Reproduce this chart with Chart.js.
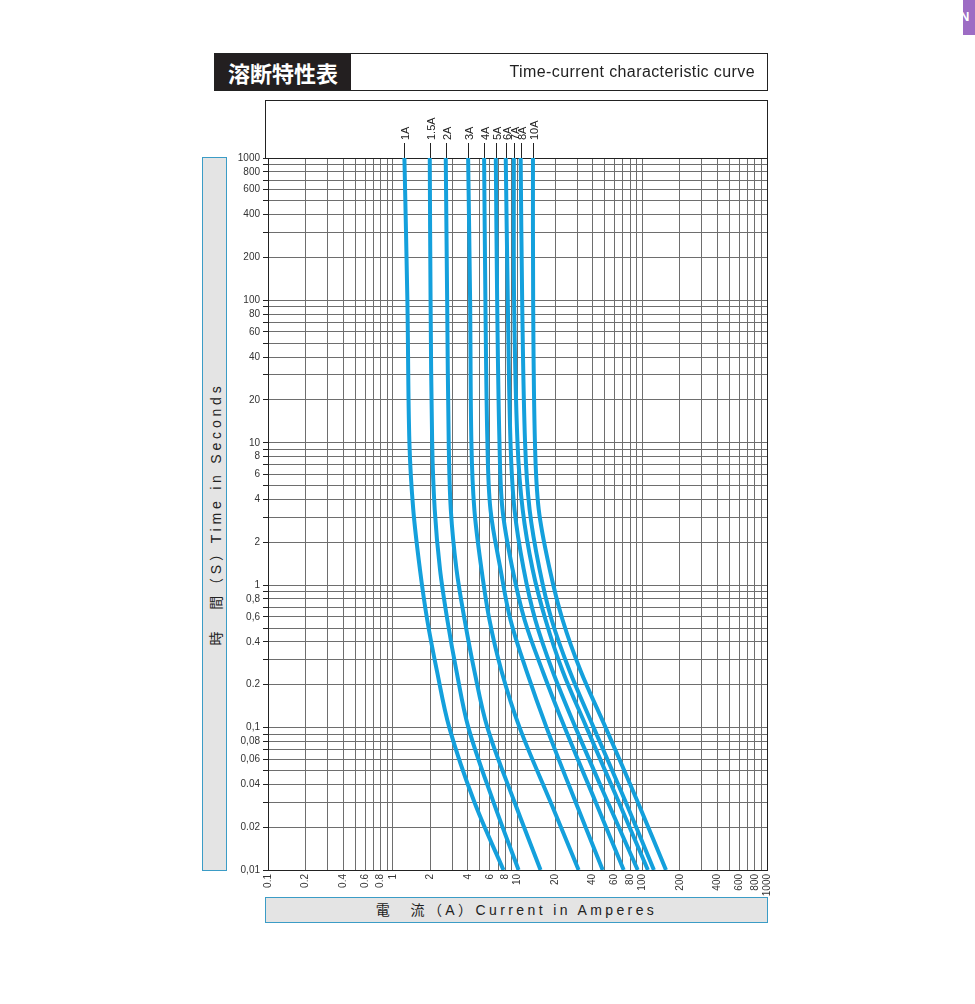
<!DOCTYPE html>
<html lang="ja">
<head>
  <meta charset="UTF-8" />
  <title>溶断特性表 | Time-current characteristic curve</title>
  <script src="https://cdn.jsdelivr.net/npm/chart.js"></script>
  <style>
    body {
      margin: 0;
      background: #fff;
      font-family: "Liberation Sans", "Noto Sans CJK JP", sans-serif;
      color: #222;
    }
    #page {
      position: relative;
      width: 975px;
      height: 1004px;
      overflow: hidden;
    }
    #chart {
      position: absolute;
      left: 0;
      top: 0;
    }
    .title-frame {
      position: absolute;
      left: 214px;
      top: 53px;
      width: 552px;
      height: 36px;
      border: 1px solid #222;
    }
    .title-jp {
      position: absolute;
      left: 0;
      top: 0;
      width: 136px;
      height: 36px;
      background: #231f20;
      color: #fff;
      font: bold 22px "Noto Sans CJK JP", sans-serif;
      line-height: 36px;
      text-align: center;
    }
    .title-en {
      position: absolute;
      right: 12px;
      top: 9px;
      font-size: 16px;
      letter-spacing: 0.4px;
      color: #222;
    }
    .top-box {
      position: absolute;
      left: 265px;
      top: 100px;
      width: 501px;
      height: 58px;
      border: 1px solid #222;
      border-bottom: none;
    }
    .y-title {
      position: absolute;
      left: 202px;
      top: 157px;
      width: 23px;
      height: 712px;
      background: #e4e4e4;
      border: 1px solid #3b9cc6;
    }
    .y-title span, .x-title span {
      font-size: 14px;
      white-space: nowrap;
      color: #222;
    }
    .y-title span {
      position: absolute;
      left: 50%;
      top: 50%;
      letter-spacing: 3.8px;
      transform: translate(-50%, -50%) rotate(-90deg);
    }
    .x-title {
      position: absolute;
      left: 265px;
      top: 897px;
      width: 501px;
      height: 24px;
      background: #e4e4e4;
      border: 1px solid #3b9cc6;
      text-align: center;
      line-height: 24px;
    }
    .x-title span {
      letter-spacing: 3.4px;
    }
    .corner {
      position: absolute;
      left: 963px;
      top: 0;
      width: 12px;
      height: 35px;
      background: #9d6cc4;
      overflow: hidden;
    }
    .corner b {
      position: absolute;
      left: -3px;
      top: 9px;
      color: #fff;
      font-size: 13px;
    }
  </style>
</head>
<body>
<div id="page">
  <canvas id="chart" width="975" height="1004"></canvas>

  <div class="title-frame">
    <div class="title-jp">溶断特性表</div>
    <div class="title-en">Time-current characteristic curve</div>
  </div>
  <div class="top-box"></div>
  <div class="y-title"><span>時　間（S）Time in Seconds</span></div>
  <div class="x-title"><span>電　流（A）Current in Amperes</span></div>
  <div class="corner"><b>N</b></div>
</div>

<script>
  // 定格ごとの溶断曲線（時間[s] に対する電流[A]、図から読み取り）
  const ratings = ['1A', '1.5A', '2A', '3A', '4A', '5A', '6A', '7A', '8A', '10A'];
  const timesSec = [1000, 100, 10, 3.4, 1.3, 0.57, 0.25, 0.1, 0.03, 0.01];

  const amps1A   = [1.24, 1.31, 1.36, 1.46, 1.65, 1.89, 2.26, 2.84, 4.51, 7.72];
  const amps1_5A = [1.98, 2.01, 2.07, 2.17, 2.39, 2.74, 3.24, 4.04, 6.42, 10.2];
  const amps2A   = [2.66, 2.73, 2.81, 2.92, 3.24, 3.77, 4.51, 5.74, 9.46, 15.3];
  const amps3A   = [4.02, 4.17, 4.27, 4.51, 5.14, 5.96, 7.44, 10.4, 18.4, 30.9];
  const amps4A   = [5.40, 5.53, 5.74, 6.07, 7.30, 8.79, 11.8, 17.1, 29.2, 48.2];
  const amps5A   = [6.70, 6.87, 7.17, 7.58, 9.12, 11.4, 15.9, 23.9, 42.3, 71.0];
  const amps6A   = [8.05, 8.36, 8.79, 9.46, 11.2, 13.9, 19.1, 29.2, 52.9, 92.0];
  const amps7A   = [9.34, 9.39, 10.0, 11.0, 13.2, 16.8, 23.0, 35.8, 64.8, 111];
  const amps8A   = [10.6, 10.9, 11.5, 12.5, 15.0, 18.8, 26.2, 40.8, 73.7, 124];
  const amps10A  = [13.3, 13.35, 13.8, 14.8, 18.1, 23.0, 32.1, 50.9, 92.0, 155];

  const ampSeries = [amps1A, amps1_5A, amps2A, amps3A, amps4A, amps5A, amps6A, amps7A, amps8A, amps10A];

  // 目盛ラベル
  const xTickValues = [0.1, 0.2, 0.4, 0.6, 0.8, 1, 2, 4, 6, 8, 10, 20, 40, 60, 80, 100, 200, 400, 600, 800, 1000];
  const xTickLabels = ['0.1', '0.2', '0.4', '0.6', '0.8', '1', '2', '4', '6', '8', '10', '20', '40', '60', '80', '100', '200', '400', '600', '800', '1000'];
  const yTickValues = [0.01, 0.02, 0.04, 0.06, 0.08, 0.1, 0.2, 0.4, 0.6, 0.8, 1, 2, 4, 6, 8, 10, 20, 40, 60, 80, 100, 200, 400, 600, 800, 1000];
  const yTickLabels = ['0,01', '0.02', '0.04', '0,06', '0,08', '0,1', '0.2', '0.4', '0,6', '0,8', '1', '2', '4', '6', '8', '10', '20', '40', '60', '80', '100', '200', '400', '600', '800', '1000'];

  const curveColor = '#14a0dc';

  // 1～9 の補助目盛をすべて作る
  function logTicks(fromExp, toExp) {
    const out = [];
    for (let e = fromExp; e < toExp; e++) {
      for (let m = 1; m <= 9; m++) {
        out.push({ value: parseFloat((m * Math.pow(10, e)).toPrecision(3)) });
      }
    }
    out.push({ value: Math.pow(10, toExp) });
    return out;
  }

  function labelFor(values, labels, value) {
    const i = values.findIndex(v => Math.abs(v - value) / v < 1e-6);
    return i >= 0 ? labels[i] : '';
  }

  const datasets = ratings.map((name, k) => ({
    label: name,
    data: timesSec.map((t, i) => ({ x: ampSeries[k][i], y: t })),
    showLine: true,
    borderColor: curveColor,
    borderWidth: 4,
    pointRadius: 0,
    tension: 0.35,
    fill: false
  }));

  // 枠線（上・右）
  const frameBorder = {
    id: 'frameBorder',
    beforeDatasetsDraw(chart) {
      const { ctx, chartArea: a } = chart;
      ctx.save();
      ctx.strokeStyle = '#222';
      ctx.lineWidth = 1;
      ctx.beginPath();
      ctx.moveTo(a.left, a.top + 0.5);
      ctx.lineTo(a.right + 0.5, a.top + 0.5);
      ctx.lineTo(a.right + 0.5, a.bottom);
      ctx.stroke();
      ctx.restore();
    }
  };

  // 上部の定格ラベルと引き出し線
  const ratingLabels = {
    id: 'ratingLabels',
    afterDraw(chart) {
      const { ctx, chartArea: a } = chart;
      const xs = chart.scales.x;
      ctx.save();
      ctx.font = '11px "Liberation Sans", sans-serif';
      ctx.fillStyle = '#222';
      ctx.strokeStyle = '#222';
      ctx.lineWidth = 1;
      chart.data.datasets.forEach(ds => {
        const px = Math.round(xs.getPixelForValue(ds.data[0].x)) + 0.5;
        ctx.beginPath();
        ctx.moveTo(px, a.top - 15);
        ctx.lineTo(px, a.top);
        ctx.stroke();
        ctx.save();
        ctx.translate(px + 1, a.top - 18);
        ctx.rotate(-Math.PI / 2);
        ctx.textAlign = 'left';
        ctx.textBaseline = 'middle';
        ctx.fillText(ds.label, 0, 0);
        ctx.restore();
      });
      ctx.restore();
    }
  };

  Chart.defaults.font.family = '"Liberation Sans", Arial, sans-serif';
  Chart.defaults.color = '#333';

  new Chart(document.getElementById('chart'), {
    type: 'scatter',
    data: { datasets: datasets },
    options: {
      responsive: false,
      animation: false,
      devicePixelRatio: 1,
      layout: { padding: { left: 228, right: 208, top: 158, bottom: 104 } },
      plugins: {
        legend: { display: false },
        tooltip: { enabled: false }
      },
      scales: {
        x: {
          type: 'logarithmic',
          min: 0.1,
          max: 1000,
          afterBuildTicks: s => { s.ticks = logTicks(-1, 3); },
          afterFit: s => { s.height = 30; },
          grid: { color: '#6e6e6e', lineWidth: 1, drawTicks: false },
          border: { color: '#222', width: 1 },
          ticks: {
            autoSkip: false,
            minRotation: 90,
            maxRotation: 90,
            padding: 4,
            font: { size: 10 },
            callback: v => labelFor(xTickValues, xTickLabels, v)
          }
        },
        y: {
          type: 'logarithmic',
          min: 0.01,
          max: 1000,
          afterBuildTicks: s => { s.ticks = logTicks(-2, 3); },
          afterFit: s => { s.width = 40; },
          grid: { color: '#6e6e6e', lineWidth: 1, drawTicks: true, tickLength: 5, tickColor: '#222' },
          border: { color: '#222', width: 1 },
          ticks: {
            autoSkip: false,
            padding: 3,
            font: { size: 10 },
            callback: v => labelFor(yTickValues, yTickLabels, v)
          }
        }
      }
    },
    plugins: [frameBorder, ratingLabels]
  });
</script>
</body>
</html>
